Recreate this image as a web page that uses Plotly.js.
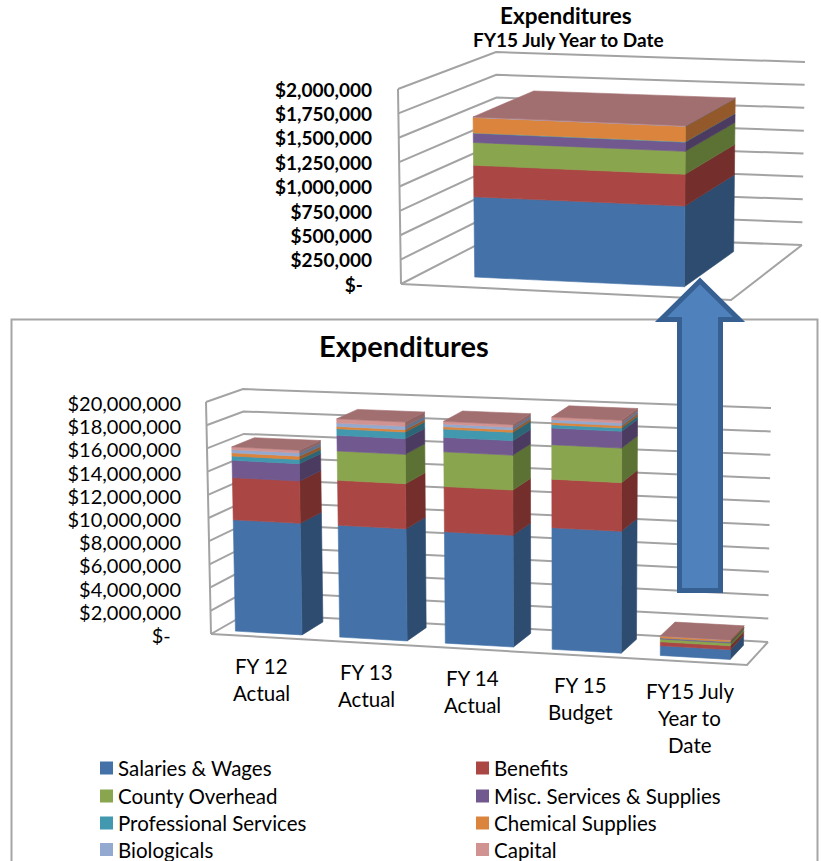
<!DOCTYPE html>
<html>
<head>
<meta charset="utf-8">
<script src="https://cdn.plot.ly/plotly-3.0.1.min.js"></script>
<style>html,body{margin:0;padding:0;background:#fff}#chart{width:821px;height:861px}</style>
</head>
<body>
<div id="chart"></div>
<script>
// Expenditures by fiscal year, stacked by cost type (dollars)
var categories = ['FY 12<br>Actual', 'FY 13<br>Actual', 'FY 14<br>Actual', 'FY 15<br>Budget', 'FY15 July<br>Year to<br>Date'];
var seriesNames = ['Salaries & Wages', 'Benefits', 'County Overhead', 'Misc. Services & Supplies',
                   'Professional Services', 'Chemical Supplies', 'Biologicals', 'Capital'];
var salaries     = [9650000, 9650000, 9570000, 10400000, 832000];
var benefits     = [3650000, 3880000, 3880000, 4150000, 327000];
var overhead     = [0, 2530000, 2990000, 2950000, 237000];
var misc         = [1500000, 1350000, 1240000, 1430000, 95000];
var professional = [370000, 570000, 720000, 280000, 4000];
var chemical     = [280000, 200000, 200000, 200000, 160000];
var biologicals  = [280000, 290000, 230000, 230000, 3000];
var capital      = [240000, 370000, 230000, 230000, 3000];
var seriesValues = [salaries, benefits, overhead, misc, professional, chemical, biologicals, capital];

var frontColors = ['#4472A8', '#AA4643', '#89A54E', '#71588F', '#4198AF', '#DB843D', '#93A9CF', '#D19392'];
var sideColors  = ['#2E4C70', '#742F2D', '#5C7235', '#4C3B60', '#2C6676', '#94592A', '#63728C', '#8D6363'];
var topColor = '#A26F70';
var gridColor = '#A3A3A3';

var summaryTicks = [0, 250000, 500000, 750000, 1000000, 1250000, 1500000, 1750000, 2000000];
var summaryLabels = ['$-\u00a0\u00a0', '$250,000', '$500,000', '$750,000', '$1,000,000', '$1,250,000', '$1,500,000', '$1,750,000', '$2,000,000'];
var mainTicks = [0, 2e6, 4e6, 6e6, 8e6, 10e6, 12e6, 14e6, 16e6, 18e6, 20e6];
var mainLabels = ['$-\u00a0\u00a0', '$2,000,000', '$4,000,000', '$6,000,000', '$8,000,000', '$10,000,000', '$12,000,000', '$14,000,000', '$16,000,000', '$18,000,000', '$20,000,000'];

var W = 821, H = 861;
var FONT = 'Lato, "Open Sans", sans-serif';
var px = function (x) { return x / W; };
var py = function (y) { return 1 - y / H; };

// Oblique view of a value box: eight screen corners, blended by
// category position (c), depth (d) and value share (t). `bend` adds the
// slight foreshortening of the category direction.
function makeView(box, maxValue, slots, bend, xName, yName, top, bottom) {
  var unit = maxValue / (box.flb[1] - box.flt[1]);
  var view = {
    box: box, maxValue: maxValue, slots: slots, xName: xName, yName: yName,
    toValue: function (yPx) { return (box.flb[1] - yPx) * unit; },
    top: top, bottom: bottom
  };
  view.project = function (cRaw, d, v) {
    var c = cRaw - bend * cRaw * (1 - cRaw);
    var t = v / maxValue, out = [0, 0];
    for (var i = 0; i < 2; i++) {
      var bottomFront = box.flb[i] + (box.frb[i] - box.flb[i]) * c;
      var bottomBack  = box.blb[i] + (box.brb[i] - box.blb[i]) * c;
      var topFront    = box.flt[i] + (box.frt[i] - box.flt[i]) * c;
      var topBack     = box.blt[i] + (box.brt[i] - box.blt[i]) * c;
      var low  = bottomFront + (bottomBack - bottomFront) * d;
      var high = topFront + (topBack - topFront) * d;
      out[i] = low + (high - low) * t;
    }
    return [out[0], view.toValue(out[1])];
  };
  return view;
}

var mainView = makeView({
  flb: [211, 634], flt: [206, 402], blb: [247, 613.5], blt: [243, 389],
  frb: [747, 665], frt: [749, 429], brb: [768, 642], brt: [771, 408]
}, 20000000, 5, 0.03, 'x2', 'y2', 320, 861);

var summaryView = makeView({
  flb: [401, 284], flt: [398, 89], blb: [498, 234], blt: [496, 52],
  frb: [731, 300], frt: [733, 103], brb: [802, 245], brt: [805, 62]
}, 2000000, 1, 0, 'x', 'y', 0, 320);

function polygons(view, faces, color, name) {
  var xs = [], ys = [];
  faces.forEach(function (face) {
    face.forEach(function (p) {
      var q = view.project(p[0], p[1], p[2]);
      xs.push(q[0]); ys.push(q[1]);
    });
    var first = view.project(face[0][0], face[0][1], face[0][2]);
    xs.push(first[0], null); ys.push(first[1], null);
  });
  return {
    type: 'scatter', mode: 'lines', x: xs, y: ys, xaxis: view.xName, yaxis: view.yName,
    fill: 'toself', fillcolor: color, line: {color: color, width: 0.6},
    name: name, showlegend: false, hoverinfo: 'skip'
  };
}

function wallTraces(view, ticks) {
  var xs = [], ys = [];
  function path(points) {
    points.forEach(function (p) {
      var q = view.project(p[0], p[1], p[2]);
      xs.push(q[0]); ys.push(q[1]);
    });
    xs.push(null); ys.push(null);
  }
  ticks.forEach(function (v) { path([[0, 0, v], [0, 1, v], [1, 1, v]]); });
  path([[0, 0, 0], [0, 0, view.maxValue]]);
  path([[0, 0, 0], [1, 0, 0], [1, 1, 0]]);
  return {
    type: 'scatter', mode: 'lines', x: xs, y: ys, xaxis: view.xName, yaxis: view.yName,
    line: {color: gridColor, width: 2}, showlegend: false, hoverinfo: 'skip'
  };
}

// One group of faces per cost type; only the last box of a column shows its top.
function barTraces(view, columns, c0, c1, d0, d1) {
  var traces = [];
  var bases = columns.map(function () { return 0; });
  seriesValues.forEach(function (values, s) {
    var front = [], side = [];
    columns.forEach(function (col, k) {
      var v = values[col];
      if (!v) return;
      var a = (k + c0) / view.slots, b = (k + c1) / view.slots;
      var v0 = bases[k], v1 = v0 + v;
      front.push([[a, d0, v0], [b, d0, v0], [b, d0, v1], [a, d0, v1]]);
      side.push([[b, d0, v0], [b, d1, v0], [b, d1, v1], [b, d0, v1]]);
      bases[k] = v1;
    });
    traces.push(polygons(view, side, sideColors[s], seriesNames[s]));
    traces.push(polygons(view, front, frontColors[s], seriesNames[s]));
  });
  var tops = columns.map(function (col, k) {
    var a = (k + c0) / view.slots, b = (k + c1) / view.slots, v = bases[k];
    return [[a, d0, v], [b, d0, v], [b, d1, v], [a, d1, v]];
  });
  traces.push(polygons(view, tops, topColor, 'Top'));
  return traces;
}

var traces = [wallTraces(summaryView, summaryTicks), wallTraces(mainView, mainTicks)]
  .concat(barTraces(summaryView, [4], 0.17, 0.815, 0.19, 0.84))
  .concat(barTraces(mainView, [0, 1, 2, 3, 4], 0.17, 0.81, 0.19, 0.81));

function valueAxis(view, ticks, labels, position, font, shift) {
  return {
    domain: [py(view.bottom), py(view.top)],
    range: [view.toValue(view.bottom), view.toValue(view.top)],
    anchor: 'free', position: position, side: 'left',
    tickmode: 'array', tickvals: ticks, ticktext: labels, ticklabelshift: shift,
    showgrid: false, zeroline: false, showline: false, ticks: '',
    tickfont: font, automargin: false, fixedrange: true
  };
}
var hiddenX = {visible: false, range: [0, W], domain: [0, 1], fixedrange: true};

var annotations = [];
function label(text, x, y, size, bold, anchor) {
  annotations.push({
    text: bold ? '<b>' + text + '</b>' : text, xref: 'paper', yref: 'paper', x: px(x), y: py(y),
    xanchor: anchor || 'center', yanchor: 'middle', showarrow: false,
    font: {family: FONT, size: size, color: '#000'}
  });
}
label('Expenditures', 566, 16, 22.5, true);
label('FY15 July Year to Date', 568, 40, 19, true);
label('Expenditures', 404, 345, 29, true);

// Category names sit just below the front edge of the floor
categories.forEach(function (name, k) {
  var base = mainView.project((k + 0.5) / mainView.slots, 0, 0);
  name.split('<br>').forEach(function (line, i) {
    annotations.push({
      text: line, xref: 'x2', yref: 'y2', x: base[0], y: base[1], xshift: -2, yshift: -29 - 27 * i,
      xanchor: 'center', yanchor: 'middle', showarrow: false,
      font: {family: FONT, size: 20.5, color: '#000'}
    });
  });
});

var shapes = [{
  type: 'path', xref: 'paper', yref: 'paper', layer: 'below',
  path: ['M', px(11.5), py(870), 'L', px(11.5), py(319.5), 'L', px(817.5), py(319.5), 'L', px(817.5), py(870)].join(' '),
  line: {color: '#A6A6A6', width: 2}
}];

// Series key: two columns, filled row by row
seriesNames.forEach(function (name, s) {
  var col = s % 2, row = Math.floor(s / 2);
  var x = col ? 476 : 100, y = [768, 796, 823, 849.5][row];
  shapes.push({
    type: 'rect', xref: 'paper', yref: 'paper', x0: px(x), x1: px(x + 13), y0: py(y - 6.5), y1: py(y + 6.5),
    fillcolor: frontColors[s], line: {width: 0}
  });
  label(name, x + 16, y, 20.5, false, 'left');
});

// Block arrow rising from the July column towards the summary chart
var arrowPoints = [[700, 281], [739, 319.5], [720.5, 319.5], [720.5, 590.5], [679.5, 590.5], [679.5, 319.5], [661, 319.5]];
shapes.push({
  type: 'path', xref: 'paper', yref: 'paper', layer: 'above',
  path: arrowPoints.map(function (p, i) { return (i ? 'L ' : 'M ') + px(p[0]) + ' ' + py(p[1]); }).join(' ') + ' Z',
  fillcolor: '#4F81BD', line: {color: '#376092', width: 5}
});

var layout = {
  width: W, height: H, margin: {l: 0, r: 0, t: 0, b: 0},
  paper_bgcolor: '#fff', plot_bgcolor: 'rgba(0,0,0,0)', showlegend: false,
  font: {family: FONT, color: '#000'},
  xaxis: Object.assign({anchor: 'y'}, hiddenX),
  xaxis2: Object.assign({anchor: 'y2'}, hiddenX),
  yaxis: valueAxis(summaryView, summaryTicks, summaryLabels, px(372), {family: FONT, size: 19, color: '#000', weight: 700}, 1),
  yaxis2: valueAxis(mainView, mainTicks, mainLabels, px(181), {family: FONT, size: 20, color: '#000'}, 2),
  annotations: annotations, shapes: shapes
};
Plotly.newPlot('chart', traces, layout, {staticPlot: true, displayModeBar: false});
</script>
</body>
</html>
